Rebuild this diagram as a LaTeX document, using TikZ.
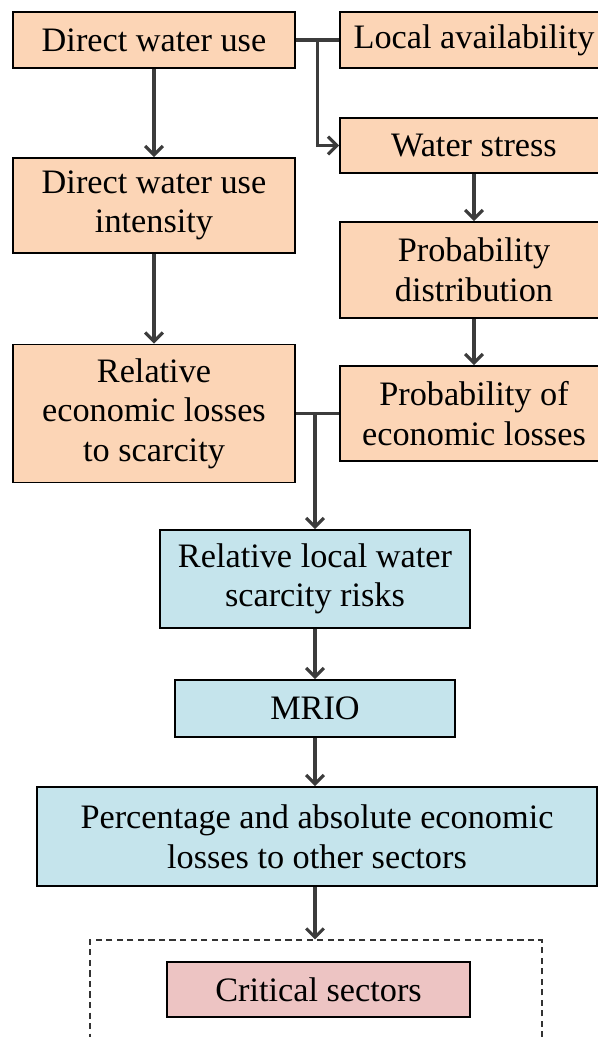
\documentclass[tikz,border=0pt]{standalone}
\usepackage{fontspec}
\setmainfont{Liberation Serif}
\usetikzlibrary{arrows.meta, calc}
\definecolor{peach}{HTML}{FCD5B6}
\definecolor{paleblue}{HTML}{C5E4EC}
\definecolor{palered}{HTML}{EDC4C3}
\definecolor{linegray}{HTML}{3C3C3C}
\tikzset{
  inbox/.style={
    rectangle, draw=black, line width=1.1pt, fill=peach,
    align=center, inner sep=2pt, minimum width=5.64cm
  },
  riskbox/.style={
    rectangle, draw=black, line width=1.1pt, fill=paleblue,
    align=center, inner sep=2pt
  },
  outbox/.style={
    rectangle, draw=black, line width=1.1pt, fill=palered,
    align=center, inner sep=2pt
  },
  frame/.style={
    rectangle, draw=black!80, line width=0.6pt, dash pattern=on 3.5pt off 2.5pt
  },
  flowline/.style={
    draw=linegray, line width=1.8pt
  },
  flowarrow/.style={
    flowline, -{Straight Barb[length=5pt,width=10pt]}
  }
}

\begin{document}
\begin{tikzpicture}[every node/.style={font=\fontsize{19.5}{22.5}\selectfont}]
  \useasboundingbox (0,0) rectangle (11.94,-20.74);

  % Left column
  \node[inbox, minimum height=1.12cm] (dwu) at (3.08,-0.80) {Direct water use};
  \node[inbox, minimum height=1.90cm] (intens) at (3.08,-4.11) {Direct water use\\intensity};
  \node[inbox, minimum height=2.76cm] (rel) at (3.08,-8.27) {Relative\\economic losses\\to scarcity};

  % Right column
  \node[inbox, minimum width=5.36cm, minimum height=1.12cm] (local) at (9.48,-0.80) {Local availability};
  \node[inbox, minimum width=5.36cm, minimum height=1.10cm] (stress) at (9.48,-2.91) {Water stress};
  \node[inbox, minimum width=5.36cm, minimum height=1.92cm] (distr) at (9.48,-5.40) {Probability\\distribution};
  \node[inbox, minimum width=5.36cm, minimum height=1.90cm] (probloss) at (9.48,-8.27) {Probability of\\economic losses};

  % Lower chain
  \node[riskbox, minimum width=6.20cm, minimum height=1.96cm] (risk) at (6.30,-11.58) {Relative local water\\scarcity risks};
  \node[riskbox, minimum width=5.60cm, minimum height=1.14cm] (mrio) at (6.30,-14.17) {MRIO};
  \node[riskbox, minimum width=11.20cm, minimum height=1.98cm] (pct) at (6.34,-16.73) {Percentage and absolute economic\\losses to other sectors};

  % Result
  \node[frame, minimum width=9.04cm, minimum height=2.4cm] (result) at (6.32,-20.00) {};
  \node[outbox, minimum width=6.06cm, minimum height=1.10cm] (crit) at (6.37,-19.79) {Critical sectors};

  % Junctions
  \coordinate (j1) at ($(dwu.east)!0.5!(local.west)$);
  \coordinate (j2) at (risk.north |- rel.east);

  % Connectors
  \draw[flowline] (dwu.east) -- (local.west);
  \draw[flowarrow] (j1) |- (stress.west);
  \draw[flowarrow] (dwu) -- (intens);
  \draw[flowarrow] (intens) -- (rel);
  \draw[flowarrow] (stress) -- (distr);
  \draw[flowarrow] (distr) -- (probloss);
  \draw[flowline] (rel.east) -- (probloss.west);
  \draw[flowarrow] (j2) -- (risk.north);
  \draw[flowarrow] (risk) -- (mrio);
  \draw[flowarrow] (mrio) -- (pct.north -| mrio);
  \draw[flowarrow] (pct.south -| mrio) -- (result.north -| mrio);
\end{tikzpicture}
\end{document}
